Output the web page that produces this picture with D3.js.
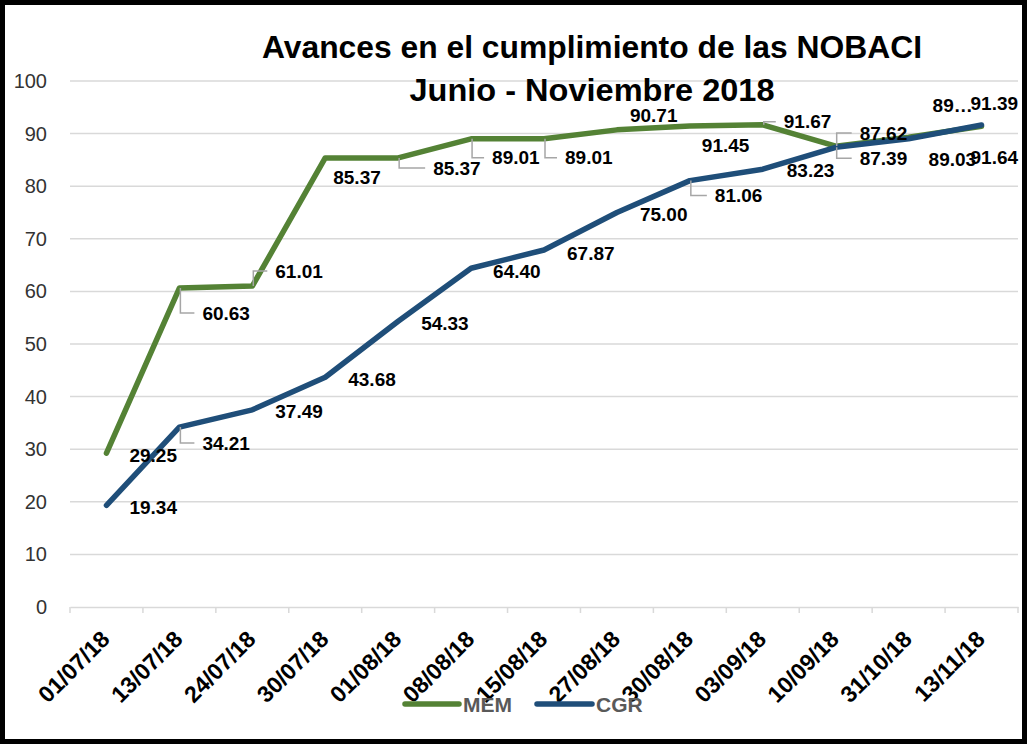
<!DOCTYPE html>
<html><head><meta charset="utf-8">
<script src="https://cdn.jsdelivr.net/npm/d3@7"></script>
<style>
html,body{margin:0;padding:0;background:#fff;}
svg{display:block;}
text{font-family:"Liberation Sans",Arial,sans-serif;}
</style></head>
<body>
<svg id="c" width="1027" height="744"></svg>
<script>
// ---- data ----
const categories = ["01/07/18","13/07/18","24/07/18","30/07/18","01/08/18","08/08/18","15/08/18","27/08/18","30/08/18","03/09/18","10/09/18","31/10/18","13/11/18"];
const memValues = [29.25,60.63,61.01,85.37,85.37,89.01,89.01,90.71,91.45,91.67,87.62,89.30,91.39];
const cgrValues = [19.34,34.21,37.49,43.68,54.33,64.40,67.87,75.00,81.06,83.23,87.39,89.03,91.64];
const yTicks = [0,10,20,30,40,50,60,70,80,90,100];
const titleLines = ["Avances en el cumplimiento de las NOBACI","Junio - Noviembre 2018"];
const seriesNames = ["MEM","CGR"];

// ---- label placement (offsets from point, in px) ----
const memDx = [23,23,23,8,35,21,21,13,12,21,24,24,-11];
const memDy = [2,25,-15,19,10,19,19,-15,19,-3,-13,-32,-23];
const memLeader = [0,1,1,0,1,1,1,0,0,1,1,0,0];
const cgrDx = [23,23,23,23,23,22,23,23,25,24,24,20,-11];
const cgrDy = [2,16,2,2,2,3,3,2,15,1,11,21,32];
const cgrLeader = [0,1,0,0,0,0,0,0,1,0,1,0,0];

const svg = d3.select("#c");
const W = 1027, H = 744;
const green = "#548235", blue = "#1f4e79";

const x = d3.scaleBand().domain(categories).range([70, 1018]).padding(0);
const y = d3.scaleLinear().domain([0, 100]).range([607, 81]);

// frame
svg.append("rect").attr("x",2.5).attr("y",2.5).attr("width",W-5).attr("height",H-5)
  .attr("fill","#fff").attr("stroke","#000").attr("stroke-width",5);

// gridlines
svg.append("g").selectAll("line").data(yTicks.filter(d=>d>0)).join("line")
  .attr("x1",70).attr("x2",1018).attr("y1",d=>y(d)).attr("y2",d=>y(d))
  .attr("stroke","#d9d9d9").attr("stroke-width",1.5);

// y axis labels
const yAxis = d3.axisLeft(y).tickValues(yTicks).tickSize(0).tickPadding(0).tickFormat(d3.format("d"));
const gy = svg.append("g").attr("transform","translate(47,0)").call(yAxis);
gy.select(".domain").remove();
gy.selectAll("text").attr("font-size",20).attr("fill","#333").attr("font-family","'Liberation Sans',Arial,sans-serif");

// x axis
const xAxis = d3.axisBottom(x).tickSize(0).tickFormat(d=>d);
const gx = svg.append("g").attr("transform","translate(0,607)").call(xAxis);
gx.select(".domain").attr("stroke","#d9d9d9").attr("stroke-width",1.5);
gx.selectAll("text").attr("font-size",23).attr("font-weight","bold").attr("fill","#000")
  .attr("font-family","'Liberation Sans',Arial,sans-serif")
  .attr("text-anchor","end").attr("x",0).attr("y",0).attr("dy","0.35em")
  .attr("transform","translate(-1,28) rotate(-45)");
// tick marks at band boundaries
const bounds = categories.map(c=>x(c)).concat([x.range()[1]]);
svg.append("g").selectAll("line").data(bounds).join("line")
  .attr("x1",d=>d).attr("x2",d=>d).attr("y1",607).attr("y2",613)
  .attr("stroke","#d9d9d9").attr("stroke-width",1.5);

const cx = c => x(c) + x.bandwidth()/2;
const line = d3.line().x((d,i)=>cx(categories[i])).y(d=>y(d));

svg.append("path").datum(memValues).attr("d",line).attr("fill","none")
  .attr("stroke",green).attr("stroke-width",5.5).attr("stroke-linejoin","round").attr("stroke-linecap","round");
svg.append("path").datum(cgrValues).attr("d",line).attr("fill","none")
  .attr("stroke",blue).attr("stroke-width",5.5).attr("stroke-linejoin","round").attr("stroke-linecap","round");

// data labels
function labels(vals, dx, dy, lead, fmt){
  const g = svg.append("g");
  vals.forEach((v,i)=>{
    const px = cx(categories[i]), py = y(v);
    const lx = px + dx[i], ly = py + dy[i];
    if (lead[i]) {
      g.append("path").attr("d", `M${px+1},${py} L${px+1},${ly} L${lx-8},${ly}`)
        .attr("fill","none").attr("stroke","#a6a6a6").attr("stroke-width",1.5);
    }
    g.append("text").attr("x",lx).attr("y",ly).attr("dy","0.35em")
      .attr("font-size",19).attr("font-weight","bold").attr("fill","#000")
      .text(fmt(v,i));
  });
}
const f2 = d3.format(".2f");
labels(memValues, memDx, memDy, memLeader, (v,i)=> i===11 ? "89…" : f2(v));
labels(cgrValues, cgrDx, cgrDy, cgrLeader, v=>f2(v));

// title
const tl = [{t:titleLines[0], x:592, y:58, w:660},{t:titleLines[1], x:592, y:101, w:365}];
tl.forEach(d=>{
  svg.append("text").attr("x",d.x).attr("y",d.y).attr("text-anchor","middle")
    .attr("font-size",31).attr("font-weight","bold").attr("fill","#000")
    .attr("textLength",d.w).attr("lengthAdjust","spacingAndGlyphs").text(d.t);
});

// legend
const leg = [{n:seriesNames[0], c:green, x1:405, x2:459, tx:463},{n:seriesNames[1], c:blue, x1:537, x2:592, tx:596}];
leg.forEach(d=>{
  svg.append("line").attr("x1",d.x1).attr("x2",d.x2).attr("y1",704).attr("y2",704)
    .attr("stroke",d.c).attr("stroke-width",5.5).attr("stroke-linecap","round");
  svg.append("text").attr("x",d.tx).attr("y",705).attr("dy","0.35em")
    .attr("font-size",21).attr("font-weight","bold").attr("fill","#595959").text(d.n);
});
</script>
</body></html>
